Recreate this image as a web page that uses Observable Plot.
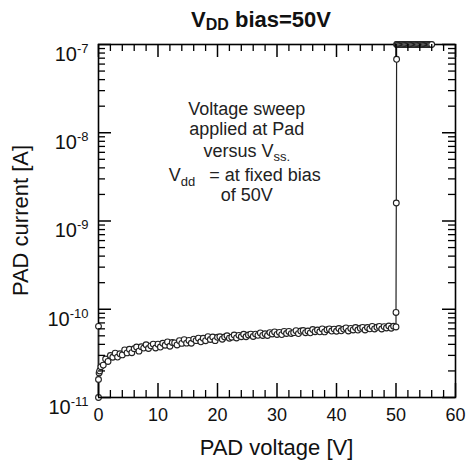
<!DOCTYPE html>
<html><head><meta charset="utf-8">
<script src="https://cdn.jsdelivr.net/npm/d3@7"></script>
<script src="https://cdn.jsdelivr.net/npm/@observablehq/plot@0.6"></script>
<style>
body{margin:0;background:#fff;font-family:"Liberation Sans",Arial,sans-serif;}
#title{height:30px;box-sizing:border-box;padding-left:55px;width:467px;text-align:center;font-weight:bold;font-size:22px;line-height:40px;color:#111;overflow:visible;white-space:nowrap;}
#title sub{font-size:16px;vertical-align:baseline;position:relative;top:3px;}
#chart{color:#111;}
</style></head><body>
<div id="title">V<sub>DD</sub> bias=50V</div>
<div id="chart"></div>
<script>
// PAD voltage sweep [V]
const padVoltage = [
  0,0,0,0.1,0.2,
  0.4,0.8,1.2,1.6,2.0,2.4,2.8,3.2,3.6,4.0,4.4,4.8,5.2,5.6,6.0,6.4,6.8,7.2,7.6,8.0,8.4,8.8,9.2,9.6,10.0,
  10.4,10.8,11.2,11.6,12.0,12.4,12.8,13.2,13.6,14.0,14.4,14.8,15.2,15.6,16.0,16.4,16.8,17.2,17.6,18.0,18.4,18.8,19.2,19.6,20.0,
  20.4,20.8,21.2,21.6,22.0,22.4,22.8,23.2,23.6,24.0,24.4,24.8,25.2,25.6,26.0,26.4,26.8,27.2,27.6,28.0,28.4,28.8,29.2,29.6,30.0,
  30.4,30.8,31.2,31.6,32.0,32.4,32.8,33.2,33.6,34.0,34.4,34.8,35.2,35.6,36.0,36.4,36.8,37.2,37.6,38.0,38.4,38.8,39.2,39.6,40.0,
  40.4,40.8,41.2,41.6,42.0,42.4,42.8,43.2,43.6,44.0,44.4,44.8,45.2,45.6,46.0,46.4,46.8,47.2,47.6,48.0,48.4,48.8,49.2,49.6,50.0,
  50.0,50.05,50.1,50.1,
  50.2,50.4,50.6,50.8,51.0,51.2,51.4,51.6,51.8,52.0,52.2,52.4,52.6,52.8,53.0,
  53.2,53.4,53.6,53.8,54.0,54.2,54.4,54.6,54.8,55.0,55.2,55.4,55.6,55.8,56.0
];
// PAD current in units of 1e-11 A
const padCurrentE11 = [
  6.4,1.0,1.6,1.9,2.0,
  2.23,2.33,2.73,2.56,2.99,2.86,3.18,2.87,3.13,3.04,3.46,3.2,3.52,3.22,3.57,3.73,3.35,3.76,3.63,3.96,3.59,3.85,4.03,3.64,4.02,
  3.73,4.12,3.91,4.26,3.81,4.2,4.15,3.94,4.4,4.1,4.53,4.13,4.43,4.12,4.59,4.41,4.7,4.28,4.69,4.4,4.89,4.54,4.85,4.41,4.81,
  4.88,4.58,4.85,5.01,4.7,4.83,5.1,4.73,5.06,4.88,5.21,4.88,5.11,5.23,4.91,5.23,5.06,5.39,5.05,5.28,5.04,5.44,5.25,5.53,5.18,
  5.47,5.16,5.62,5.31,5.6,5.3,5.43,5.72,5.3,5.66,5.74,5.42,5.67,5.4,5.89,5.57,5.81,5.55,5.98,5.54,5.86,5.98,5.66,5.96,5.63,
  6.05,5.7,5.96,6.15,5.68,6.06,5.83,6.2,5.81,6.08,6.22,5.83,6.21,6.0,6.39,5.98,6.24,6.39,5.97,6.36,6.13,6.46,6.09,6.42,6.3,
  9.2,160,6800,10000,
  10000,10000,10000,10000,10000,10000,10000,10000,10000,10000,10000,10000,10000,10000,10000,
  10000,10000,10000,10000,10000,10000,10000,10000,10000,10000,10000,10000,10000,10000,10000
];
const xMajorTicks = [0,10,20,30,40,50,60];
const xMinorTicks = [2,4,6,8,12,14,16,18,22,24,26,28,32,34,36,38,42,44,46,48,52,54,56,58];
const yMajorTicks = [1e-11,1e-10,1e-9,1e-8,1e-7];
const yMinorMultipliers = [2,3,4,5,6,7,8,9];
const xLabel = "PAD voltage [V]";
const yLabel = "PAD current [A]";

const data = padVoltage.map((v, k) => ({v, i: padCurrentE11[k] * 1e-11}));
const yMinorTicks = yMajorTicks.slice(0, -1).flatMap(d => yMinorMultipliers.map(m => m * d));

const W = 467, H = 433, mt = 14, mb = 66, ml = 98, mr = 12;
const PH = H - mt - mb, PW = W - ml - mr;
const ink = "#000";

const chart = Plot.plot({
  width: W, height: H,
  marginTop: mt, marginBottom: mb, marginLeft: ml, marginRight: mr,
  style: {fontFamily: '"Liberation Sans", Arial, sans-serif', color: "#111", background: "white"},
  x: {domain: [0, 60], label: null},
  y: {type: "log", domain: [1e-11, 1e-7], label: null},
  marks: [
    Plot.frame({stroke: ink, strokeWidth: 1.6}),
    Plot.line(data, {x: "v", y: "i", stroke: "#222", strokeWidth: 1.2}),
    Plot.dot(data, {x: "v", y: "i", r: 2.9, stroke: "#222", fill: "white", strokeWidth: 1.1}),
    // inward tick marks on all four sides of the frame
    Plot.ruleX(xMajorTicks, {x: d => d, insetTop: PH - 14, stroke: ink, strokeWidth: 1.5}),
    Plot.ruleX(xMajorTicks, {x: d => d, insetBottom: PH - 13, stroke: ink, strokeWidth: 1.5}),
    Plot.ruleX(xMinorTicks, {x: d => d, insetTop: PH - 7, stroke: ink, strokeWidth: 1.3}),
    Plot.ruleX(xMinorTicks, {x: d => d, insetBottom: PH - 7, stroke: ink, strokeWidth: 1.3}),
    Plot.ruleY(yMajorTicks, {y: d => d, insetRight: PW - 13, stroke: ink, strokeWidth: 1.5}),
    Plot.ruleY(yMajorTicks, {y: d => d, insetLeft: PW - 13, stroke: ink, strokeWidth: 1.5}),
    Plot.ruleY(yMinorTicks, {y: d => d, insetRight: PW - 7, stroke: ink, strokeWidth: 1.3}),
    Plot.ruleY(yMinorTicks, {y: d => d, insetLeft: PW - 7, stroke: ink, strokeWidth: 1.3}),
    Plot.axisX({ticks: xMajorTicks, tickSize: 0, tickPadding: 11, fontSize: 18, label: null}),
    Plot.axisY({ticks: yMajorTicks, tickSize: 0, tickPadding: 10, fontSize: 20, label: null,
      tickFormat: d => String(Math.round(Math.log10(d)))})
  ]
});
document.getElementById("chart").appendChild(chart);

const svg = d3.select(chart);
// superscript exponents on y tick labels
svg.selectAll('g[aria-label="y-axis tick label"] text').each(function() {
  const t = d3.select(this);
  const e = t.text();
  if (!e) return;
  t.text("10").attr("dy", "0.5em");
  t.append("tspan").attr("dy", -8).attr("font-size", 13).text(e);
});

const font = '"Liberation Sans", Arial, sans-serif';
// axis titles
svg.append("text").attr("x", ml + PW / 2).attr("y", 425).attr("text-anchor", "middle")
  .attr("font-size", 22).attr("fill", "#111").attr("font-family", font).text(xLabel);
svg.append("text").attr("transform", `translate(28,${mt + PH / 2}) rotate(-90)`).attr("text-anchor", "middle")
  .attr("font-size", 22).attr("fill", "#111").attr("font-family", font).text(yLabel);

// annotation
const ax = chart.scale("x").apply(25);
const ann = svg.append("g").attr("font-size", 18).attr("fill", "#222").attr("font-family", font).attr("text-anchor", "middle");
ann.append("text").attr("x", ax).attr("y", 85).text("Voltage sweep");
ann.append("text").attr("x", ax).attr("y", 105).text("applied at Pad");
const l3 = ann.append("text").attr("x", ax).attr("y", 127);
l3.append("tspan").text("versus V");
l3.append("tspan").attr("font-size", 13).attr("dy", 4).text("ss.");
const l4 = ann.append("text").attr("x", ax - 2).attr("y", 151);
l4.append("tspan").text("V");
l4.append("tspan").attr("font-size", 13).attr("dy", 5).text("dd");
l4.append("tspan").attr("dy", -5).attr("dx", 14).text("= at fixed bias");
ann.append("text").attr("x", ax).attr("y", 171).text("of 50V");
</script>
</body></html>
